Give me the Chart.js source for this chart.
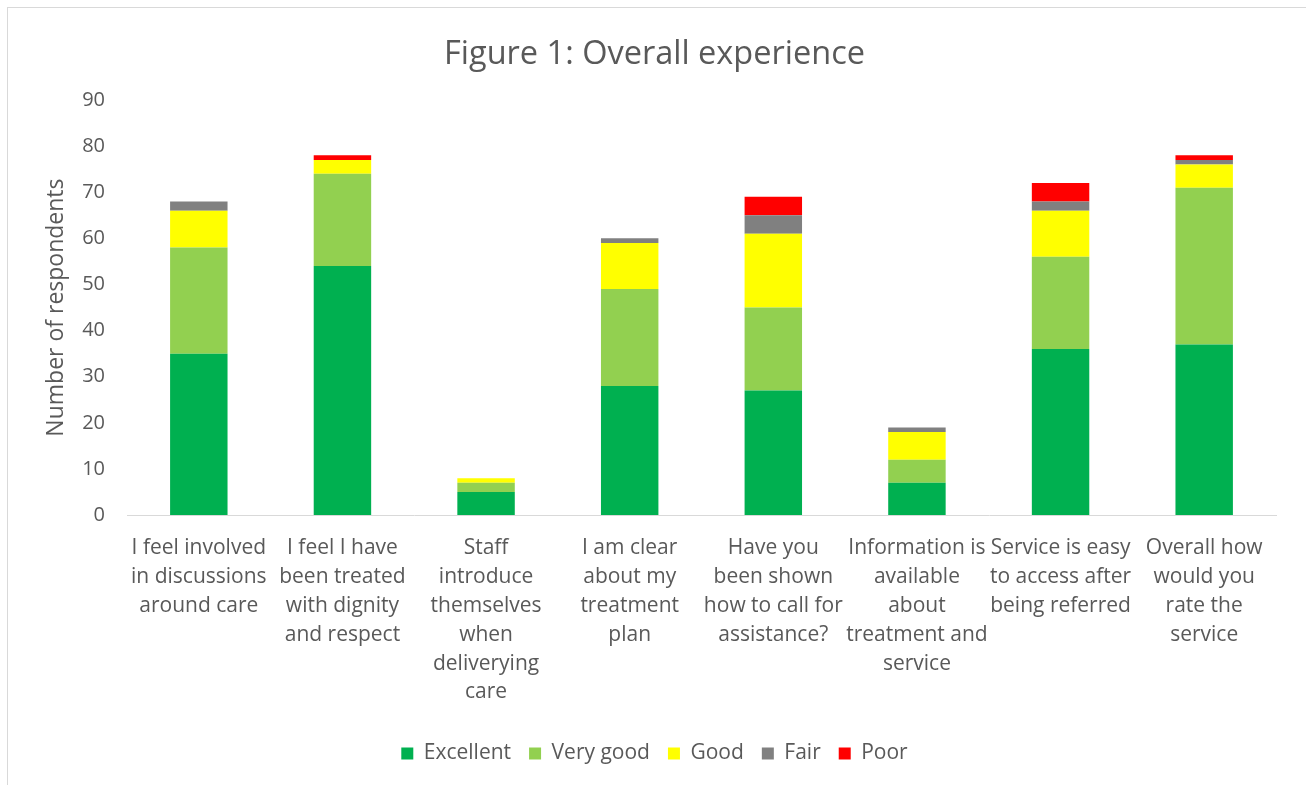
<!DOCTYPE html>
<html>
<head>
<meta charset="utf-8">
<script src="https://cdn.jsdelivr.net/npm/chart.js@4"></script>
<style>
  html, body { margin: 0; padding: 0; background: #fff; }
  #wrap { position: absolute; left: 7px; top: 7px; width: 1310px; height: 790px; border: 1px solid #d9d9d9; box-sizing: border-box; }
  #box { position: absolute; left: 0; top: 0; width: 1306px; height: 785px; }
</style>
</head>
<body>
<div id="wrap"></div>
<div id="box"><canvas id="chart"></canvas></div>
<script>
// categories (x-axis labels, wrapped as in the original)
let questions = [
      ["I feel involved", "in discussions", "around care"],
      ["I feel I have", "been treated", "with dignity", "and respect"],
      ["Staff", "introduce", "themselves", "when", "deliverying", "care"],
      ["I am clear", "about my", "treatment", "plan"],
      ["Have you", "been shown", "how to call for", "assistance?"],
      ["Information is", "available", "about", "treatment and", "service"],
      ["Service is easy", "to access after", "being referred"],
      ["Overall how", "would you", "rate the", "service"]
];

// number of respondents per rating
let excellent = [35, 54, 5, 28, 27, 7, 36, 37];
let veryGood = [23, 20, 2, 21, 18, 5, 20, 34];
let good = [8, 3, 1, 10, 16, 6, 10, 5];
let fair = [2, 0, 0, 1, 4, 1, 2, 1];
let poor = [0, 1, 0, 0, 4, 0, 4, 1];

let yTicks = [0, 10, 20, 30, 40, 50, 60, 70, 80, 90];

let font = "'Open Sans', 'Liberation Sans', sans-serif";
let textColor = "#595959";

let mkSet = (label, data, color) => ({
      label: label,
      data: data,
      backgroundColor: color,
      borderWidth: 0,
      barPercentage: 0.4,
      categoryPercentage: 1.0
});

new Chart(document.getElementById("chart").getContext("2d"), {
      type: "bar",
      data: {
            labels: questions,
            datasets: [
                  mkSet("Excellent", excellent, "#00b050"),
                  mkSet("Very good", veryGood, "#92d050"),
                  mkSet("Good", good, "#ffff00"),
                  mkSet("Fair", fair, "#808080"),
                  mkSet("Poor", poor, "#ff0000")
            ]
      },
      options: {
            responsive: true,
            maintainAspectRatio: false,
            animation: false,
            layout: { padding: { left: 33, right: 30, top: 25, bottom: 11 } },
            plugins: {
                  title: {
                        display: true,
                        text: "Figure 1: Overall experience",
                        color: textColor,
                        font: { family: font, size: 32.5, weight: "normal" },
                        padding: { top: 10, bottom: 26 }
                  },
                  legend: {
                        position: "bottom",
                        labels: {
                              color: textColor,
                              font: { family: font, size: 21 },
                              boxWidth: 12,
                              boxHeight: 12,
                              padding: 18
                        }
                  },
                  tooltip: { enabled: false }
            },
            scales: {
                  x: {
                        stacked: true,
                        grid: { display: false, drawTicks: false },
                        border: { display: true, color: "#d9d9d9" },
                        ticks: {
                              color: textColor,
                              font: { family: font, size: 21, lineHeight: 1.38 },
                              maxRotation: 0,
                              autoSkip: false,
                              padding: 18
                        }
                  },
                  y: {
                        stacked: true,
                        min: 0,
                        max: 90,
                        afterBuildTicks: (axis) => { axis.ticks = yTicks.map(v => ({ value: v })); },
                        afterFit: (axis) => { axis.width = 94; },
                        grid: { display: false, drawTicks: false },
                        border: { display: false },
                        ticks: {
                              color: textColor,
                              font: { family: font, size: 20 },
                              padding: 22
                        },
                        title: {
                              display: true,
                              text: "Number of respondents",
                              color: textColor,
                              font: { family: font, size: 23 },
                              padding: { top: 10, bottom: 0 }
                        }
                  }
            }
      }
});
</script>
</body>
</html>
